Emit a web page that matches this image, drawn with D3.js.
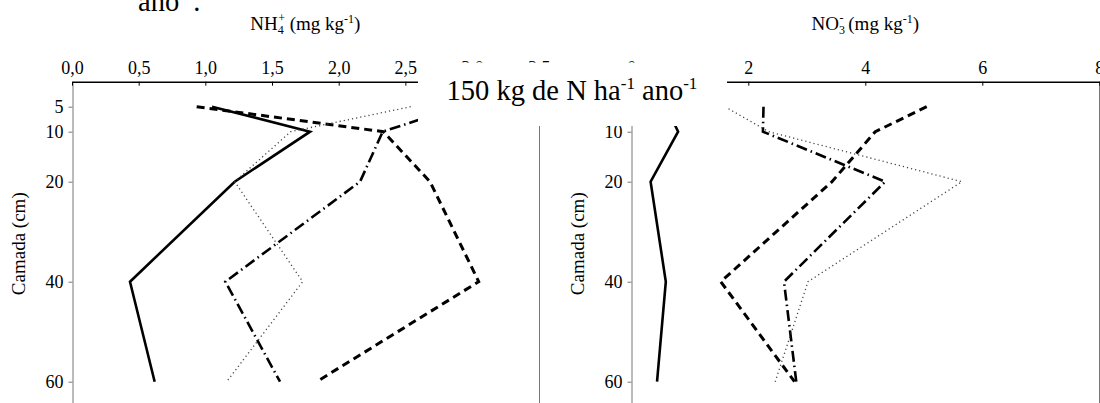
<!DOCTYPE html>
<html>
<head>
<meta charset="utf-8">
<script src="https://cdn.jsdelivr.net/npm/d3@7"></script>
<style>
  body { margin: 0; background: #fff; }
  svg { display: block; }
  svg text { font-family: "Liberation Serif", "Times New Roman", serif !important; fill: #000; }
</style>
</head>
<body>
<svg id="chart" width="1100" height="403"></svg>
<script>
// Soil layer depths (cm) and axis ticks
const depths = [5, 10, 20, 40, 60];
const depthTicks = [5, 10, 20, 40, 60];
const nh4Ticks = [0, 0.5, 1, 1.5, 2, 2.5, 3, 3.5];
const no3Ticks = [0, 2, 4, 6, 8];

// NH4+ (mg kg-1) per depth, one array per treatment line
const nh4Solid   = [1.05, 1.785, 1.22, 0.435, 0.62];
const nh4Dashed  = [0.935, 2.335, 2.685, 3.05, 1.835];
const nh4DashDot = [2.9, 2.33, 2.16, 1.15, 1.56];
const nh4Dotted  = [2.54, 1.64, 1.22, 1.73, 1.16];

// NO3- (mg kg-1) per depth
const no3Solid   = [0.6, 0.80, 0.33, 0.59, 0.44];
const no3Dashed  = [5.05, 4.17, 3.43, 1.53, 2.79];
const no3DashDot = [2.26, 2.25, 4.34, 2.61, 2.82];
const no3Dotted  = [1.6, 2.35, 5.65, 3.02, 2.46];

const lineStyles = {
  solid:   { width: 2.6, dash: null, color: "#000" },
  dashed:  { width: 3,   dash: "8,5", color: "#000" },
  dashDot: { width: 2.6, dash: "11,4,1.5,4", color: "#000" },
  dotted:  { width: 1.3, dash: "1.2,3", color: "#444" }
};

const serif = '"Liberation Serif", "Times New Roman", serif';
const svg = d3.select("#chart");

const y = d3.scaleLinear().domain([0, 70]).range([81.7, 431.7]);

function panel(opts) {
  const x = d3.scaleLinear().domain(opts.domain).range(opts.range);
  const g = svg.append("g");

  // right frame line
  g.append("line")
    .attr("x1", Math.round(x(opts.domain[1])) + 0.5)
    .attr("x2", Math.round(x(opts.domain[1])) + 0.5)
    .attr("y1", y(0)).attr("y2", 403)
    .attr("stroke", "#777").attr("stroke-width", 1);

  // left depth axis
  const ya = g.append("g")
    .attr("transform", `translate(${Math.round(x(opts.domain[0])) + 0.5},0)`)
    .call(d3.axisLeft(y).tickValues(depthTicks).tickSizeInner(4).tickSizeOuter(0).tickPadding(5));
  ya.attr("font-family", null).attr("font-size", null);
  ya.select(".domain").attr("stroke", "#777");
  ya.selectAll(".tick line").attr("stroke", "#777");
  ya.selectAll("text").style("font-size", "18px").style("font-family", serif);

  // top concentration axis
  const xa = g.append("g")
    .attr("transform", `translate(0,${y(0)})`)
    .call(d3.axisTop(x).tickValues(opts.ticks).tickFormat(opts.format)
      .tickSizeInner(-4).tickSizeOuter(0).tickPadding(8));
  xa.attr("font-family", null).attr("font-size", null);
  xa.select(".domain").attr("stroke", "#000").attr("stroke-width", 1.4);
  xa.selectAll(".tick line").attr("stroke", "#000");
  xa.selectAll("text").style("font-size", "18px").style("font-family", serif);

  // series lines
  const line = d3.line().x(d => x(d.v)).y(d => y(d.d));
  opts.series.forEach(s => {
    const st = lineStyles[s.style];
    g.append("path")
      .datum(depths.map((d, i) => ({ d, v: s.values[i] })))
      .attr("d", line)
      .attr("fill", "none")
      .attr("stroke", st.color)
      .attr("stroke-width", st.width)
      .attr("stroke-dasharray", st.dash)
      .attr("stroke-linejoin", "miter");
  });

  // depth axis title
  g.append("text")
    .attr("transform", `translate(${x(opts.domain[0]) - 47},${y(32.4)}) rotate(-90)`)
    .attr("text-anchor", "middle")
    .style("font-size", "19px").style("font-family", serif)
    .text("Camada (cm)");

  // concentration title
  const cx = (opts.range[0] + opts.range[1]) / 2;
  const t = g.append("text")
    .attr("x", cx).attr("y", 30)
    .attr("text-anchor", "middle")
    .style("font-size", "19px").style("font-family", serif);
  t.append("tspan").text(opts.ion);
  t.append("tspan").style("font-size", "12px").attr("dy", 4).text(opts.sub);
  t.append("tspan").style("font-size", "12px").attr("dy", -12).attr("dx", -5.5).text(opts.sup);
  t.append("tspan").attr("dy", 8).text(" (mg kg");
  t.append("tspan").style("font-size", "12px").attr("dy", -7).text("-1");
  t.append("tspan").attr("dy", 7).text(")");
}

const commaFmt = d => d3.format(".1f")(d).replace(".", ",");

panel({
  domain: [0, 3.5], range: [72, 538.7], ticks: nh4Ticks, format: commaFmt,
  ion: "NH", sub: "4", sup: "+",
  series: [
    { style: "solid", values: nh4Solid },
    { style: "dashed", values: nh4Dashed },
    { style: "dashDot", values: nh4DashDot },
    { style: "dotted", values: nh4Dotted }
  ]
});

panel({
  domain: [0, 8], range: [631.3, 1099.3], ticks: no3Ticks, format: d => String(d),
  ion: "NO", sub: "3", sup: "-",
  series: [
    { style: "solid", values: no3Solid },
    { style: "dashed", values: no3Dashed },
    { style: "dashDot", values: no3DashDot },
    { style: "dotted", values: no3Dotted }
  ]
});

// dose label on a white panel
svg.append("rect")
  .attr("x", 418).attr("y", 62.5).attr("width", 309).attr("height", 63.5)
  .attr("fill", "#fff");

const dose = svg.append("text")
  .attr("x", 572).attr("y", 100)
  .attr("text-anchor", "middle")
  .style("font-size", "28.5px").style("font-family", serif);
dose.append("tspan").text("150 kg de N ha");
dose.append("tspan").style("font-size", "17px").attr("dy", -11).text("-1");
dose.append("tspan").attr("dy", 11).text(" ano");
dose.append("tspan").style("font-size", "17px").attr("dy", -11).text("-1");

// heading fragment at the top edge
const head = svg.append("text")
  .attr("x", 138).attr("y", 11)
  .style("font-size", "28.5px").style("font-family", serif);
head.append("tspan").text("ano");
head.append("tspan").style("font-size", "17px").attr("dy", -11).text("-1");
head.append("tspan").attr("dy", 11).text(".");
</script>
</body>
</html>
